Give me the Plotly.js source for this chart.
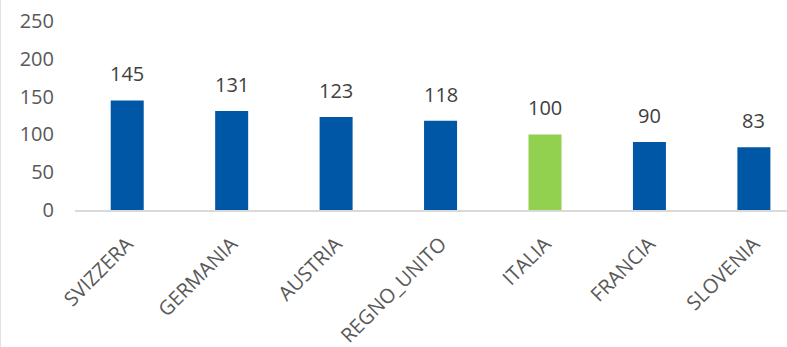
<!DOCTYPE html>
<html><head><meta charset="utf-8">
<script src="https://cdn.plot.ly/plotly-3.0.1.min.js"></script>
<style>html,body{margin:0;padding:0;background:#fff}</style>
</head><body>
<div id="chart" style="width:787px;height:347px"></div>
<script>
const categories = ["SVIZZERA","GERMANIA","AUSTRIA","REGNO_UNITO","ITALIA","FRANCIA","SLOVENIA"];
const values = [145,131,123,118,100,90,83];
const highlight = "ITALIA";
const colors = categories.map(c => c === highlight ? "#92D050" : "#0057A5");
const FONT = "'Open Sans', sans-serif";

const trace = {
  type: "bar",
  x: categories,
  y: values,
  marker: {color: colors},
  hoverinfo: "skip"
};

const annotations = categories.map((c, i) => ({
  x: c, y: values[i], xref: "x", yref: "y",
  text: String(values[i]),
  showarrow: false, yanchor: "bottom", yshift: 11,
  font: {family: FONT, size: 20, color: "#404040"}
}));

const layout = {
  width: 787, height: 347,
  margin: {l: 75, r: 0, t: 21, b: 137},
  paper_bgcolor: "#fff", plot_bgcolor: "#fff",
  showlegend: false,
  bargap: 0.684,
  xaxis: {
    type: "category",
    range: [-0.5, 6.317],
    showline: true, linecolor: "#d9d9d9", linewidth: 1.5,
    showgrid: false, zeroline: false,
    tickangle: -45,
    ticks: "", ticklabelstandoff: 13,
    tickfont: {family: FONT, size: 20, color: "#595959"}
  },
  yaxis: {
    range: [0, 250],
    tickvals: [0,50,100,150,200,250],
    showgrid: false, zeroline: false, showline: false,
    ticks: "", ticklabelstandoff: 20,
    tickfont: {family: FONT, size: 20, color: "#595959"}
  },
  annotations: annotations,
  shapes: [{
    type: "line", xref: "paper", yref: "paper",
    x0: -75/712, x1: -75/712, y0: -137/189, y1: 1 + 21/189,
    line: {color: "#d9d9d9", width: 1.5}
  }]
};

Plotly.newPlot("chart", [trace], layout, {staticPlot: true, displayModeBar: false});
</script>
</body></html>
